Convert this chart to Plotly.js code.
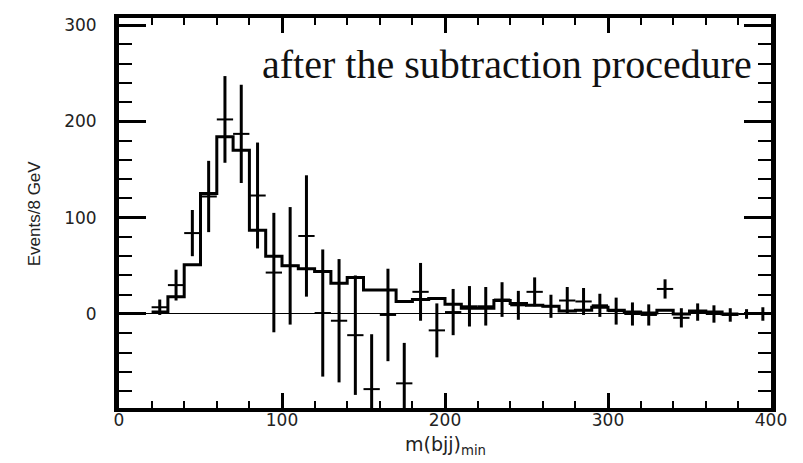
<!DOCTYPE html>
<html>
<head>
<meta charset="utf-8">
<script src="https://cdn.plot.ly/plotly-3.0.1.min.js"></script>
<style>
html,body{margin:0;padding:0;background:#fff;}
#chart{width:803px;height:463px;}
</style>
</head>
<body>
<div id="chart"></div>
<script>
// Data points (bin centres, 10 GeV bins)
const dataX = [25,35,45,55,65,75,85,95,105,115,125,135,145,155,165,175,185,195,205,215,225,235,245,255,265,275,285,295,305,315,325,335,345,355,365,375,385,395];
const dataY = [7,30,84,122,202,187,123,43,50,81,1,-7,-22,-78,-1,-72,23,-17,2,8,8,15,9,23,8,14,13,9,3,0,-1,26,-4,2,0,-1,0,0];
const dataErr = [8,16,24,37,45,51,55,62,61,63,66,64,62,57,48,42,30,28,24,21,20,18,15,15,12,14,14,12,14,12,11,10,10,9,9,7,5,7];

// Histogram (lower bin edges and contents)
const histLo = [20,30,40,50,60,70,80,90,100,110,120,130,140,150,160,170,180,190,200,210,220,230,240,250,260,270,280,290,300,310,320,330,340,350,360,370];
const histVal = [2,18,51,125,184,170,87,60,50,47,44,32,38,25,25,13,15,16,10,6,6,14,11,9,8,3,4,7,4,2,1,4,0,3,2,0];
const histBinWidth = 10;

const xTickVals = [0,100,200,300,400];
const yTickVals = [0,100,200,300];

const titleText = "after the subtraction procedure";
const xTitle = "m(bjj)<sub>min</sub>";
const yTitle = "Events/8 GeV";

const stepX = histLo.concat([histLo[histLo.length-1] + histBinWidth]);
const stepY = histVal.concat([histVal[histVal.length-1]]);

const traces = [
  {
    x: stepX, y: stepY, type: 'scatter', mode: 'lines',
    line: {shape: 'hv', color: '#000', width: 3},
    hoverinfo: 'skip', showlegend: false
  },
  {
    x: dataX, y: dataY, type: 'scatter', mode: 'markers',
    marker: {size: 0.1, color: '#000'},
    error_y: {type: 'data', array: dataErr, visible: true, color: '#000', thickness: 3, width: 0},
    error_x: {type: 'constant', value: 5, visible: true, color: '#000', thickness: 2, width: 0},
    showlegend: false
  }
];

const tickFont = {family: 'DejaVu Sans', size: 17, color: '#222'};

const layout = {
  width: 803, height: 463,
  margin: {l: 119, r: 32, t: 18, b: 55, pad: 0},
  paper_bgcolor: '#fff', plot_bgcolor: '#fff',
  showlegend: false,
  xaxis: {
    range: [0, 400], tickmode: 'array', tickvals: xTickVals,
    ticks: 'inside', ticklen: 15, tickwidth: 3, tickcolor: '#000',
    showline: true, linewidth: 4, linecolor: '#000', mirror: 'allticks',
    showgrid: false, zeroline: false,
    tickfont: tickFont, ticklabelstandoff: -6,
    minor: {tick0: 0, dtick: 20, ticks: 'inside', ticklen: 7, tickwidth: 2, tickcolor: '#000', showgrid: false}
  },
  yaxis: {
    range: [-97.6, 307.3], tickmode: 'array', tickvals: yTickVals,
    ticks: 'inside', ticklen: 27, tickwidth: 3, tickcolor: '#000',
    showline: true, linewidth: 5, linecolor: '#000', mirror: 'allticks',
    showgrid: false, zeroline: true, zerolinecolor: '#000', zerolinewidth: 1,
    tickfont: tickFont, ticklabelstandoff: 14,
    minor: {tick0: 0, dtick: 20, ticks: 'inside', ticklen: 13, tickwidth: 2, tickcolor: '#000', showgrid: false}
  },
  annotations: [
    {text: titleText, xref: 'paper', yref: 'paper', x: 0.595, y: 0.88, xanchor: 'center', yanchor: 'middle',
     showarrow: false, font: {family: 'Liberation Serif', size: 40, color: '#111'}},
    {text: xTitle, xref: 'paper', yref: 'paper', x: 0.5, y: -0.06, xanchor: 'center', yanchor: 'top',
     showarrow: false, font: {family: 'DejaVu Sans', size: 19, color: '#222'}},
    {text: yTitle, xref: 'paper', yref: 'paper', x: -0.13, y: 0.5, xanchor: 'center', yanchor: 'middle',
     textangle: -90, showarrow: false, font: {family: 'Liberation Sans Narrow, Liberation Sans', size: 17, color: '#222'}}
  ]
};

Plotly.newPlot('chart', traces, layout, {staticPlot: true, displayModeBar: false});
</script>
</body>
</html>
